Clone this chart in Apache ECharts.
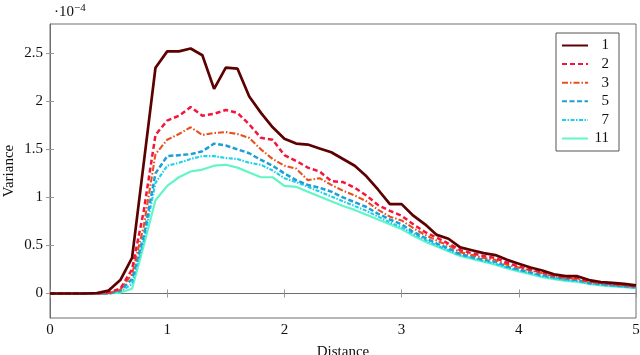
<!DOCTYPE html>
<html>
<head>
<meta charset="utf-8">
<script src="https://cdn.jsdelivr.net/npm/echarts@6/dist/echarts.min.js"></script>
<style>
  html, body { margin: 0; padding: 0; background: #fff; }
  #chart { width: 640px; height: 355px; }
</style>
</head>
<body>
<div id="chart"></div>
<script>
// distance samples, 0 .. 5 in steps of 0.1
const distance = [
  0.0, 0.1, 0.2, 0.3, 0.4, 0.5, 0.6, 0.7, 0.8, 0.9,
  1.0, 1.1, 1.2, 1.3, 1.4, 1.5, 1.6, 1.7, 1.8, 1.9,
  2.0, 2.1, 2.2, 2.3, 2.4, 2.5, 2.6, 2.7, 2.8, 2.9,
  3.0, 3.1, 3.2, 3.3, 3.4, 3.5, 3.6, 3.7, 3.8, 3.9,
  4.0, 4.1, 4.2, 4.3, 4.4, 4.5, 4.6, 4.7, 4.8, 4.9, 5.0
];

// variance values, in units of 1e-4
const var1 = [
  0, 0, 0, 0, 0.005, 0.03, 0.14, 0.37, 1.36, 2.35,
  2.52, 2.52, 2.55, 2.48, 2.13, 2.35, 2.34, 2.05, 1.88, 1.73,
  1.61, 1.56, 1.55, 1.51, 1.47, 1.40, 1.33, 1.22, 1.08, 0.93,
  0.93, 0.81, 0.72, 0.61, 0.57, 0.48, 0.45, 0.42, 0.40, 0.35,
  0.31, 0.27, 0.24, 0.20, 0.18, 0.18, 0.14, 0.12, 0.11, 0.10, 0.085
];
const var2 = [
  0, 0, 0, 0, 0, 0.01, 0.05, 0.25, 0.86, 1.65,
  1.80, 1.85, 1.94, 1.85, 1.87, 1.91, 1.88, 1.76, 1.62, 1.60,
  1.44, 1.38, 1.31, 1.27, 1.17, 1.16, 1.10, 1.02, 0.92, 0.86,
  0.81, 0.72, 0.64, 0.58, 0.52, 0.45, 0.42, 0.39, 0.37, 0.32,
  0.28, 0.25, 0.22, 0.19, 0.17, 0.16, 0.13, 0.11, 0.10, 0.09, 0.075
];
const var3 = [
  0, 0, 0, 0, 0, 0.005, 0.04, 0.20, 0.70, 1.45,
  1.60, 1.66, 1.73, 1.65, 1.67, 1.68, 1.66, 1.62, 1.50, 1.40,
  1.33, 1.30, 1.18, 1.20, 1.13, 1.07, 1.02, 0.96, 0.87, 0.80,
  0.76, 0.68, 0.61, 0.55, 0.50, 0.43, 0.40, 0.37, 0.35, 0.30,
  0.27, 0.24, 0.21, 0.18, 0.16, 0.15, 0.12, 0.11, 0.095, 0.085, 0.07
];
const var5 = [
  0, 0, 0, 0, 0, 0, 0.03, 0.15, 0.60, 1.25,
  1.43, 1.44, 1.45, 1.48, 1.56, 1.54, 1.50, 1.46, 1.39, 1.33,
  1.25, 1.18, 1.13, 1.10, 1.06, 1.00, 0.95, 0.90, 0.83, 0.77,
  0.72, 0.64, 0.58, 0.52, 0.47, 0.41, 0.38, 0.35, 0.33, 0.28,
  0.25, 0.22, 0.19, 0.17, 0.15, 0.14, 0.11, 0.10, 0.085, 0.075, 0.065
];
const var7 = [
  0, 0, 0, 0, 0, 0, 0.02, 0.10, 0.55, 1.15,
  1.33, 1.36, 1.40, 1.43, 1.43, 1.41, 1.40, 1.36, 1.34, 1.28,
  1.20, 1.16, 1.11, 1.06, 1.01, 0.96, 0.91, 0.86, 0.80, 0.74,
  0.69, 0.62, 0.56, 0.50, 0.45, 0.40, 0.37, 0.34, 0.31, 0.27,
  0.24, 0.21, 0.18, 0.16, 0.14, 0.13, 0.105, 0.09, 0.08, 0.07, 0.06
];
const var11 = [
  0, 0, 0, 0, 0, 0, 0.01, 0.05, 0.50, 0.97,
  1.12, 1.21, 1.27, 1.29, 1.33, 1.34, 1.31, 1.26, 1.21, 1.21,
  1.12, 1.11, 1.06, 1.01, 0.96, 0.91, 0.87, 0.82, 0.77, 0.72,
  0.67, 0.60, 0.54, 0.49, 0.44, 0.39, 0.36, 0.33, 0.30, 0.26,
  0.23, 0.20, 0.17, 0.15, 0.13, 0.12, 0.10, 0.085, 0.075, 0.065, 0.055
];

const seriesNames = ["1", "2", "3", "5", "7", "11"];
const seriesValues = [var1, var2, var3, var5, var7, var11];
const xTicks = [0, 1, 2, 3, 4, 5];
const yTicks = [0, 0.5, 1, 1.5, 2, 2.5];

const colors = ["#5c0000", "#f5143c", "#e8501e", "#1e9ed6", "#1cd0ee", "#62f5c8"];
const dashes = ["solid", [5, 3], [6, 2, 1.5, 2], [5, 2.5], [4, 1.5, 1.5, 1.5], "solid"];
const widths = [2.7, 2.5, 2.1, 2.5, 2.1, 2.2];

const serif = "Liberation Serif";
const frameColor = "#6e6e6e";

const chart = echarts.init(document.getElementById("chart"), null, { renderer: "canvas" });

const series = seriesNames.map((name, i) => ({
  name: name,
  type: "line",
  xAxisIndex: 0,
  yAxisIndex: 0,
  data: distance.map((d, k) => [d, seriesValues[i][k]]),
  showSymbol: false,
  symbol: "none",
  smooth: false,
  z: 10 - i,
  lineStyle: { color: colors[i], width: widths[i], type: dashes[i] },
  itemStyle: { color: colors[i] }
}));

const tickStyle = { show: true, inside: true, length: 4, lineStyle: { color: "#999", width: 1 } };

const option = {
  animation: false,
  backgroundColor: "#fff",
  grid: {
    left: 50, right: 4, top: 24, bottom: 37,
    outerBoundsMode: "none",
    containLabel: false,
    show: true, borderColor: frameColor, borderWidth: 1, backgroundColor: "transparent"
  },
  legend: {
    orient: "vertical",
    right: 21,
    top: 33,
    padding: [5, 10, 5, 5],
    itemWidth: 26,
    itemHeight: 10,
    itemGap: 3.6,
    borderColor: "#555",
    borderWidth: 1,
    backgroundColor: "#fff",
    data: seriesNames,
    itemStyle: { opacity: 0 },
    formatter: "{a|{name}}",
    textStyle: {
      fontFamily: serif, fontSize: 15, color: "#111",
      rich: { a: { width: 16, align: "right", fontFamily: serif, fontSize: 15, lineHeight: 15 } }
    }
  },
  xAxis: [
    {
      type: "value", min: 0, max: 5, interval: 1,
      name: "Distance", nameLocation: "middle", nameGap: 27, nameMoveOverlap: false,
      nameTextStyle: { fontFamily: serif, fontSize: 15, color: "#111" },
      axisLine: { show: true, lineStyle: { color: frameColor } },
      axisTick: Object.assign({ customValues: xTicks }, tickStyle),
      axisLabel: { customValues: xTicks, fontFamily: serif, fontSize: 15, color: "#111", margin: 5 },
      splitLine: { show: false }
    },
    {
      type: "value", position: "top", min: 0, max: 5, interval: 1,
      axisLine: { show: false },
      axisTick: Object.assign({ customValues: xTicks }, tickStyle),
      axisLabel: { show: false },
      splitLine: { show: false }
    }
  ],
  yAxis: [
    {
      type: "value", min: -0.255, max: 2.805,
      name: "Variance", nameLocation: "middle", nameGap: 33, nameMoveOverlap: false, nameRotate: 90,
      nameTextStyle: { fontFamily: serif, fontSize: 15, color: "#111" },
      axisLine: { show: true, lineStyle: { color: frameColor } },
      axisTick: Object.assign({ customValues: yTicks }, tickStyle),
      axisLabel: {
        customValues: yTicks, fontFamily: serif, fontSize: 15, color: "#111", margin: 7,
        formatter: v => String(v)
      },
      splitLine: { show: false }
    },
    {
      type: "value", position: "right", min: -0.255, max: 2.805,
      axisLine: { show: false },
      axisTick: Object.assign({ customValues: yTicks }, tickStyle),
      axisLabel: { show: false },
      splitLine: { show: false }
    }
  ],
  graphic: [
    {
      type: "text",
      left: 54,
      top: 3,
      style: {
        text: "·10{sup|−4}",
        font: "15px " + serif,
        fill: "#111",
        rich: { sup: { fontSize: 11, fontFamily: serif, verticalAlign: "top", padding: [0, 0, 8, 0] } }
      }
    }
  ],
  series: series
};

chart.setOption(option);
</script>
</body>
</html>
